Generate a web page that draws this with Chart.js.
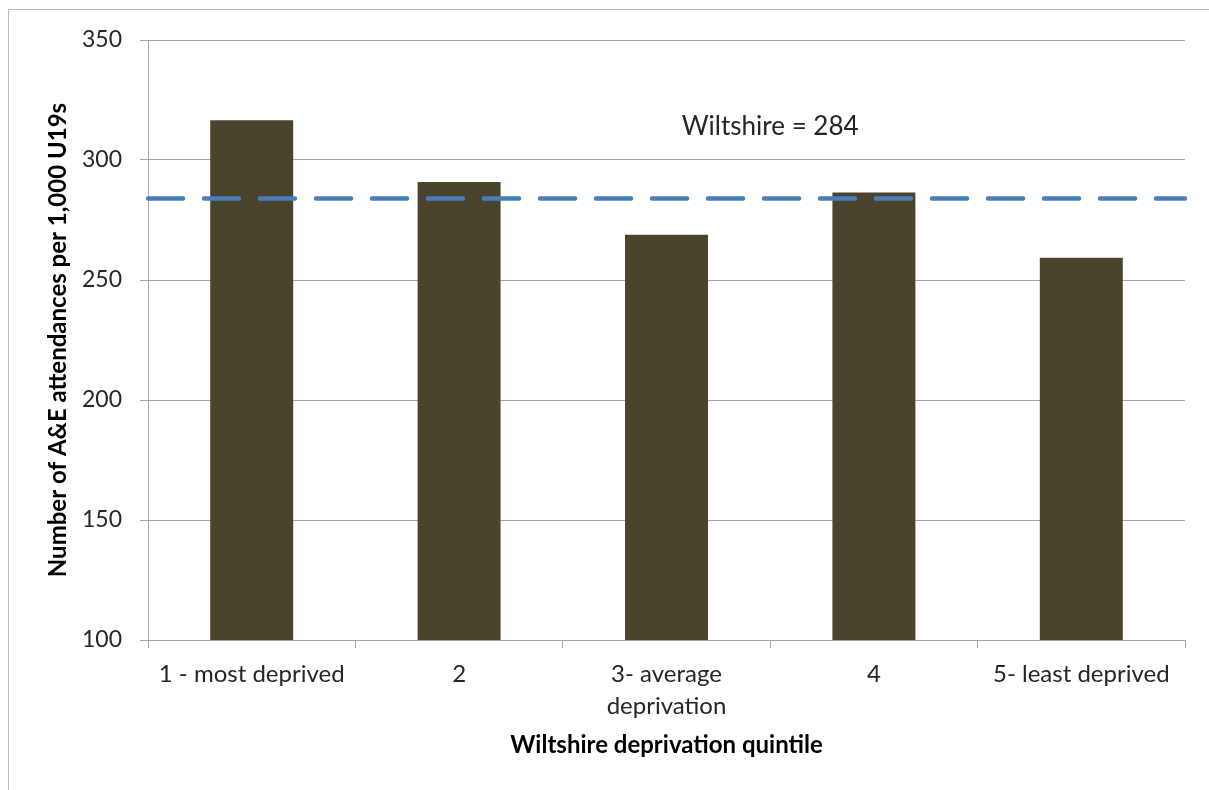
<!DOCTYPE html>
<html>
<head>
<meta charset="utf-8">
<script src="https://cdn.jsdelivr.net/npm/chart.js@4.4.0/dist/chart.umd.min.js"></script>
<style>
  html, body { margin: 0; padding: 0; background: #fff; }
  #wrap { position: relative; width: 1209px; height: 790px; }
  #frame { position: absolute; left: 8px; top: 9px; right: 0; bottom: 0;
           border-top: 1px solid #BDBDBD; border-left: 1px solid #BDBDBD; pointer-events: none; }
  canvas { position: absolute; left: 0; top: 0; }
</style>
</head>
<body>
<div id="wrap">
  <canvas id="c" width="1209" height="790"></canvas>
  <div id="frame"></div>
</div>
<script>
// A&E attendances per 1,000 under-19s by deprivation quintile
const categories = [
  '1 - most deprived',
  '2',
  ['3- average', 'deprivation'],
  '4',
  '5- least deprived'
];
const attendanceRates = [316.6, 290.8, 268.9, 286.5, 259.3];
const wiltshireAverage = 284;
const averageLabel = 'Wiltshire = 284';
const yTicks = [100, 150, 200, 250, 300, 350];

const FONT = 'Lato, "Open Sans", sans-serif';
const TEXT = '#262626';
const GRID = '#A6A6A6';

// Writes the county average caption above the dashed line
const averageCaption = {
  id: 'averageCaption',
  afterDatasetsDraw(chart) {
    const { ctx, scales } = chart;
    const x = (scales.x.getPixelForValue(2) + scales.x.getPixelForValue(3)) / 2;
    const y = scales.y.getPixelForValue(313.8);
    ctx.save();
    ctx.font = '26px ' + FONT;
    ctx.fillStyle = TEXT;
    ctx.textAlign = 'center';
    ctx.textBaseline = 'middle';
    ctx.fillText(averageLabel, x, y);
    ctx.restore();
  }
};

new Chart(document.getElementById('c'), {
  type: 'bar',
  data: {
    labels: categories,
    datasets: [
      {
        type: 'line',
        label: averageLabel,
        data: categories.map(() => wiltshireAverage),
        xAxisID: 'xLine',
        borderColor: '#4A7EBB',
        borderWidth: 4.5,
        borderDash: [35, 21],
        borderCapStyle: 'round',
        pointRadius: 0,
        fill: false,
        order: 0
      },
      {
        label: 'Attendances per 1,000 U19s',
        data: attendanceRates,
        backgroundColor: '#4A442D',
        borderColor: '#4A442D',
        borderWidth: 0,
        grouped: false,
        barPercentage: 0.4,
        categoryPercentage: 1.0,
        order: 1
      }
    ]
  },
  options: {
    responsive: false,
    animation: false,
    layout: { padding: { top: 40, right: 24, left: 0, bottom: 0 } },
    plugins: {
      legend: { display: false },
      tooltip: { enabled: false }
    },
    scales: {
      x: {
        offset: true,
        grid: {
          offset: true,
          drawOnChartArea: false,
          color: GRID,
          tickLength: 8,
          tickColor: GRID
        },
        border: { color: GRID, width: 1 },
        ticks: {
          color: TEXT,
          font: { family: FONT, size: 24, lineHeight: 1.33 },
          padding: 10,
          maxRotation: 0,
          autoSkip: false
        },
        title: {
          display: true,
          text: 'Wiltshire deprivation quintile',
          color: '#000',
          font: { family: FONT, size: 24, weight: 'bold', lineHeight: 1.2 },
          padding: { top: 0, bottom: 30 }
        },
        afterFit(scale) { scale.height = 150; }
      },
      xLine: {
        type: 'category',
        labels: categories,
        offset: false,
        display: false
      },
      y: {
        min: 100,
        max: 350,
        afterBuildTicks(scale) { scale.ticks = yTicks.map(v => ({ value: v })); },
        grid: {
          color: GRID,
          tickLength: 8,
          tickColor: GRID
        },
        border: { color: GRID, width: 1 },
        ticks: {
          color: TEXT,
          font: { family: FONT, size: 23 },
          padding: 18
        },
        title: {
          display: true,
          text: 'Number of A&E attendances per 1,000 U19s',
          color: '#000',
          font: { family: FONT, size: 24, weight: 'bold', lineHeight: 1.2 },
          padding: { top: 44, bottom: 0 }
        },
        afterFit(scale) { scale.width = 148; }
      }
    }
  },
  plugins: [averageCaption]
});
</script>
</body>
</html>
